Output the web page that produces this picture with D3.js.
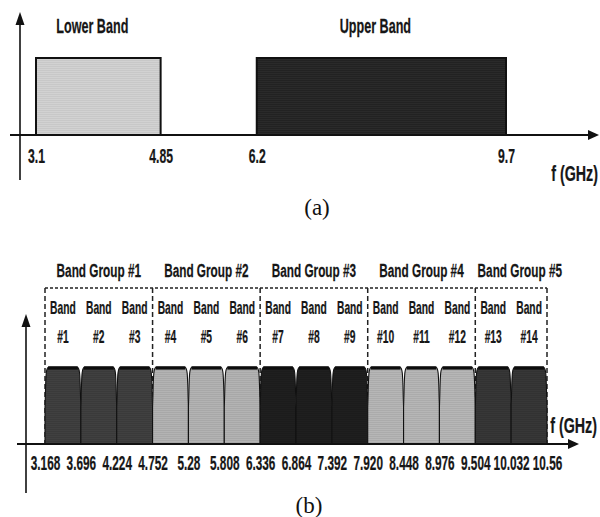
<!DOCTYPE html>
<html>
<head>
<meta charset="utf-8">
<script src="https://cdn.jsdelivr.net/npm/d3@7"></script>
<style>
body { margin: 0; background: #fff; }
svg { display: block; }
.lbl { font-family: "Liberation Sans", Arial, sans-serif; font-weight: bold; fill: #161616; stroke: #161616; stroke-width: 0.25px; }
.cap { font-family: "Liberation Serif", "Times New Roman", serif; fill: #111; }
</style>
</head>
<body>
<svg></svg>
<script>
var WIDTH = 600;
var HEIGHT = 517;

// (a) UWB spectrum split in two bands
var bandNamesA = ["Lower Band", "Upper Band"];
var bandStartA = [3.1, 6.2];
var bandEndA = [4.85, 9.7];
var ticksA = ["3.1", "4.85", "6.2", "9.7"];

// (b) MB-OFDM band plan
var bandEdgesB = ["3.168", "3.696", "4.224", "4.752", "5.28", "5.808", "6.336", "6.864",
    "7.392", "7.920", "8.448", "8.976", "9.504", "10.032", "10.56"];
var bandNumbers = [1, 2, 3, 4, 5, 6, 7, 8, 9, 10, 11, 12, 13, 14];
var bandGroupOf = [1, 1, 1, 2, 2, 2, 3, 3, 3, 4, 4, 4, 5, 5];
var groupNames = ["Band Group #1", "Band Group #2", "Band Group #3", "Band Group #4", "Band Group #5"];

var fillA = ["#d2d2d2", "#2a2a2a"];
var fillGroup = ["#3a3a3a", "#b3b3b3", "#1c1c1c", "#b6b6b6", "#323232"];

var svg = d3.select("svg")
    .attr("width", WIDTH)
    .attr("height", HEIGHT);

// fine horizontal scan lines, like the original print
var defs = svg.append("defs");
function stripes(id, base, line) {
    var p = defs.append("pattern").attr("id", id)
        .attr("patternUnits", "userSpaceOnUse").attr("width", 6).attr("height", 2);
    p.append("rect").attr("width", 6).attr("height", 2).attr("fill", base);
    p.append("rect").attr("width", 6).attr("height", 0.7).attr("fill", line);
}
stripes("pa0", fillA[0], "#c4c4c4");
stripes("pa1", fillA[1], "#1e1e1e");
fillGroup.forEach(function(c, i) {
    var d = d3.color(c);
    stripes("pg" + i, c, (d.r > 120 ? d.darker(0.25) : d.brighter(0.35)).toString());
});

// condensed bold labels (the original uses a narrow face)
function label(g, x, y, str, size, sx, anchor) {
    return g.append("text").attr("class", "lbl")
        .attr("transform", "translate(" + x + "," + y + ") scale(" + sx + ",1)")
        .attr("text-anchor", anchor || "middle")
        .style("font-size", size + "px")
        .text(str);
}

function arrowRight(g, x, y) {
    g.append("path").attr("d", "M" + x + "," + y + "L" + (x - 11) + "," + (y - 5) + "L" + (x - 11) + "," + (y + 5) + "Z").attr("fill", "#111");
}
function arrowUp(g, x, y) {
    g.append("path").attr("d", "M" + x + "," + y + "L" + (x - 4.5) + "," + (y + 13) + "L" + (x + 4.5) + "," + (y + 13) + "Z").attr("fill", "#111");
}

// ---------- (a) ----------
var ga = svg.append("g");
var xA = d3.scaleLinear().domain([3.1, 9.7]).range([36, 506]);
var yA = d3.scaleLinear().domain([0, 1]).range([135, 58]);

ga.selectAll("rect.band")
    .data(bandNamesA)
    .enter()
    .append("rect")
    .attr("class", "band")
    .attr("x", function(d, i) { return xA(bandStartA[i]); })
    .attr("width", function(d, i) { return xA(bandEndA[i]) - xA(bandStartA[i]); })
    .attr("y", yA(1))
    .attr("height", yA(0) - yA(1))
    .attr("fill", function(d, i) { return "url(#pa" + i + ")"; })
    .attr("stroke", "#111")
    .attr("stroke-width", 2);

bandNamesA.forEach(function(d, i) {
    var cx = (xA(bandStartA[i]) + xA(bandEndA[i])) / 2 - 6;
    label(ga, cx, 33, d, 21, 0.6);
});

ga.append("line").attr("x1", 10).attr("x2", 590).attr("y1", yA(0)).attr("y2", yA(0))
    .attr("stroke", "#111").attr("stroke-width", 2.2);
arrowRight(ga, 599, yA(0));
ga.append("line").attr("x1", 20).attr("x2", 20).attr("y1", 180).attr("y2", 20)
    .attr("stroke", "#111").attr("stroke-width", 1.6);
arrowUp(ga, 20, 12);

var axA = ga.append("g")
    .attr("transform", "translate(0," + yA(0) + ")")
    .call(d3.axisBottom(xA)
        .tickValues(ticksA.map(Number))
        .tickFormat(function(d, i) { return ticksA[i]; })
        .tickSize(0)
        .tickPadding(14));
axA.select(".domain").remove();
axA.selectAll("text")
    .attr("class", "lbl")
    .attr("transform", "scale(0.61,1)")
    .style("font-size", "20px");
label(ga, 598, 181, "f (GHz)", 22, 0.65, "end");

ga.append("text").attr("class", "cap").attr("x", 317).attr("y", 215)
    .attr("text-anchor", "middle").style("font-size", "23px").text("(a)");

// ---------- (b) ----------
var gb = svg.append("g");
var edges = bandEdgesB.map(Number);
var xB = d3.scaleLinear().domain([edges[0], edges[edges.length - 1]]).range([45, 547]);
var yB = d3.scaleLinear().domain([0, 1]).range([444, 367]);
var notch = 0.48;
var boxTop = 288;

// dashed group boxes
var groupEdges = [edges[0]];
groupNames.forEach(function(g, gi) {
    var last = bandGroupOf.lastIndexOf(gi + 1);
    groupEdges.push(edges[last + 1]);
});
gb.append("line").attr("x1", xB(groupEdges[0])).attr("x2", xB(groupEdges[groupEdges.length - 1]))
    .attr("y1", boxTop).attr("y2", boxTop)
    .attr("stroke", "#222").attr("stroke-width", 1.5).attr("stroke-dasharray", "3,2");
gb.selectAll("line.gsep")
    .data(groupEdges)
    .enter()
    .append("line")
    .attr("class", "gsep")
    .attr("x1", function(d) { return xB(d); })
    .attr("x2", function(d) { return xB(d); })
    .attr("y1", boxTop)
    .attr("y2", yB(0))
    .attr("stroke", "#222").attr("stroke-width", 1.5).attr("stroke-dasharray", "5,3");

groupNames.forEach(function(g, gi) {
    var cx = (xB(groupEdges[gi]) + xB(groupEdges[gi + 1])) / 2;
    cx = Math.max(cx, xB(groupEdges[gi]) + 44.5);
    label(gb, cx, 277, g, 19, 0.62);
});

function bandPath(x0, x1) {
    var p = d3.path();
    p.moveTo(x0, yB(0));
    p.lineTo(x0, yB(notch));
    p.bezierCurveTo(x0 + 1, yB(0.85), x0 + 0.3, yB(1), x0 + 4, yB(1));
    p.lineTo(x1 - 4, yB(1));
    p.bezierCurveTo(x1 - 0.3, yB(1), x1 - 1, yB(0.85), x1, yB(notch));
    p.lineTo(x1, yB(0));
    p.closePath();
    return p.toString();
}

var bands = gb.selectAll("g.bandB")
    .data(bandNumbers)
    .enter()
    .append("g")
    .attr("class", "bandB");

bands.append("path")
    .attr("d", function(d, i) { return bandPath(xB(edges[i]), xB(edges[i + 1])); })
    .attr("fill", function(d, i) { return "url(#pg" + (bandGroupOf[i] - 1) + ")"; })
    .attr("stroke", "#111")
    .attr("stroke-width", 1.1);

bands.append("line")
    .attr("x1", function(d, i) { return xB(edges[i]) + 3; })
    .attr("x2", function(d, i) { return xB(edges[i + 1]) - 3; })
    .attr("y1", yB(1) + 1)
    .attr("y2", yB(1) + 1)
    .attr("stroke", "#0c0c0c")
    .attr("stroke-width", 3.2);

bandNumbers.forEach(function(n, i) {
    var cx = (xB(edges[i]) + xB(edges[i + 1])) / 2;
    label(gb, cx, 314, "Band", 18, 0.57);
    label(gb, cx, 343, "#" + n, 18, 0.57);
});

gb.append("line").attr("x1", 17).attr("x2", 570).attr("y1", yB(0)).attr("y2", yB(0))
    .attr("stroke", "#111").attr("stroke-width", 2);
arrowRight(gb, 579, yB(0));
gb.append("line").attr("x1", 26).attr("x2", 26).attr("y1", 493).attr("y2", 322)
    .attr("stroke", "#111").attr("stroke-width", 1.6);
arrowUp(gb, 26, 314);

var axB = gb.append("g")
    .attr("transform", "translate(0," + yB(0) + ")")
    .call(d3.axisBottom(xB)
        .tickValues(edges)
        .tickFormat(function(d, i) { return bandEdgesB[i]; })
        .tickSize(0)
        .tickPadding(12));
axB.select(".domain").remove();
axB.selectAll("text")
    .attr("class", "lbl")
    .attr("transform", "scale(0.59,1)")
    .style("font-size", "20px");
label(gb, 597, 433, "f (GHz)", 22, 0.65, "end");

gb.append("text").attr("class", "cap").attr("x", 309).attr("y", 513)
    .attr("text-anchor", "middle").style("font-size", "23px").text("(b)");
</script>
</body>
</html>
